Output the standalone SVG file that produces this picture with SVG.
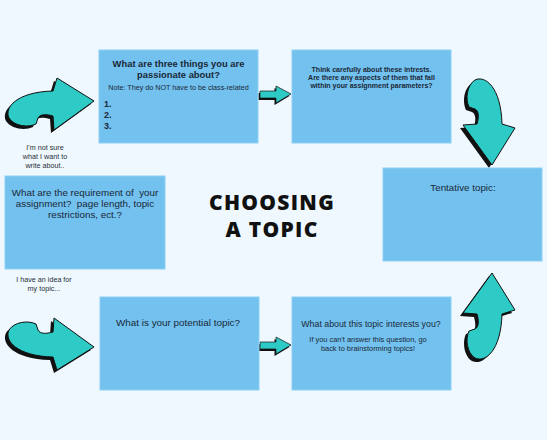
<svg xmlns="http://www.w3.org/2000/svg" xmlns:xlink="http://www.w3.org/1999/xlink" width="547" height="440" viewBox="0 0 547 440">
<style>
.box{fill:#72c1ee;stroke:#8fd0f4;stroke-width:1}
.t{font-family:"Liberation Sans",Arial,sans-serif;fill:#1b2838;text-anchor:middle}
.s{text-anchor:start}
.b{font-weight:bold}
.side{font-family:"Liberation Sans",Arial,sans-serif;fill:#2a2f36;text-anchor:middle;font-size:7.2px}
.title{font-family:"Open Sans","Liberation Sans",sans-serif;font-weight:800;font-size:21px;letter-spacing:1.3px;fill:#111;text-anchor:middle}
.teal{fill:#2ecbc6;stroke:#111;stroke-width:1;stroke-linejoin:round}
.shadow{fill:#111}
</style>
<defs>
<path id="big" d="M7 -26 L44 -3 L4 26 L3 12 C-4 10 -10 10 -12 14 L-14 20 C-22 24 -36 22 -41 14 C-46 4 -34 -12 3 -13 Z"/>
<path id="small" d="M0 -3 L16 -3 L16 -8 L31 0 L16 9 L16 4 L0 4 Z"/>
</defs>
<rect width="547" height="440" fill="#eef8fe"/>

<g id="connectors">
  <g id="arrow-top-left">
    <use xlink:href="#big" class="shadow" transform="translate(-3,3) translate(50,104)"/>
    <use xlink:href="#big" class="teal" transform="translate(50,104)"/>
  </g>
  <g id="arrow-bottom-left">
    <use xlink:href="#big" class="shadow" transform="translate(-3,3) translate(50,344) scale(1,-1)"/>
    <use xlink:href="#big" class="teal" transform="translate(50,344) scale(1,-1)"/>
  </g>
  <g id="arrow-top-right">
    <use xlink:href="#big" class="shadow" transform="translate(-3,3) translate(489,121) rotate(90)"/>
    <use xlink:href="#big" class="teal" transform="translate(489,121) rotate(90)"/>
  </g>
  <g id="arrow-bottom-right">
    <use xlink:href="#big" class="shadow" transform="translate(-3,3) translate(489,317) scale(1,-1) rotate(90)"/>
    <use xlink:href="#big" class="teal" transform="translate(489,317) scale(1,-1) rotate(90)"/>
  </g>
  <g id="arrow-small-top">
    <use xlink:href="#small" class="shadow" transform="translate(-1.5,2) translate(260,94)"/>
    <use xlink:href="#small" class="teal" transform="translate(260,94)" style="stroke-width:0.7"/>
  </g>
  <g id="arrow-small-bottom">
    <use xlink:href="#small" class="shadow" transform="translate(-1.5,2) translate(260,345)"/>
    <use xlink:href="#small" class="teal" transform="translate(260,345)" style="stroke-width:0.7"/>
  </g>
</g>

<g id="node-passionate">
  <rect class="box" x="99" y="50" width="159" height="93"/>
  <text class="t b" x="178.5" y="67" font-size="9.4">What are three things you are</text>
  <text class="t b" x="178.5" y="77.5" font-size="9.4">passionate about?</text>
  <text class="t" x="178.5" y="90" font-size="7.2">Note: They do NOT have to be class-related</text>
  <text class="t b s" x="104" y="106.5" font-size="9">1.</text>
  <text class="t b s" x="104" y="117.5" font-size="9">2.</text>
  <text class="t b s" x="104" y="128.5" font-size="9">3.</text>
</g>

<g id="node-think">
  <rect class="box" x="292" y="50" width="159" height="93"/>
  <text class="t b" x="371.5" y="71.5" font-size="7">Think carefully about these intrests.</text>
  <text class="t b" x="371.5" y="79.5" font-size="7">Are there any aspects of them that fall</text>
  <text class="t b" x="371.5" y="87.5" font-size="7">within your assignment parameters?</text>
</g>

<g id="label-not-sure">
  <text class="side" x="45" y="150">I'm not sure</text>
  <text class="side" x="45" y="159">what I want to</text>
  <text class="side" x="45" y="168">write about..</text>
</g>

<g id="node-requirements">
  <rect class="box" x="5" y="176" width="160" height="93"/>
  <text class="t" x="85" y="196" font-size="9.8" xml:space="preserve">What are the requirement of  your</text>
  <text class="t" x="85" y="207" font-size="9.8" xml:space="preserve">assignment?  page length, topic</text>
  <text class="t" x="85" y="218" font-size="9.8">restrictions, ect.?</text>
</g>

<g id="label-idea">
  <text class="side" x="44" y="282">I have an idea for</text>
  <text class="side" x="44" y="291">my topic...</text>
</g>

<g id="title">
  <text class="title" x="272" y="210">CHOOSING</text>
  <text class="title" x="272" y="237">A TOPIC</text>
</g>

<g id="node-tentative">
  <rect class="box" x="383" y="168" width="159" height="93"/>
  <text class="t" x="463" y="190.5" font-size="9.8">Tentative topic:</text>
</g>

<g id="node-potential">
  <rect class="box" x="100" y="297" width="159" height="93"/>
  <text class="t" x="178" y="326" font-size="9.9">What is your potential topic?</text>
</g>

<g id="node-interests">
  <rect class="box" x="292" y="297" width="159" height="93"/>
  <text class="t" x="371" y="327" font-size="8.8">What about this topic interests you?</text>
  <text class="t" x="368" y="342" font-size="7.4">If you can't answer this question, go</text>
  <text class="t" x="368" y="351" font-size="7.4">back to brainstorming topics!</text>
</g>
</svg>
